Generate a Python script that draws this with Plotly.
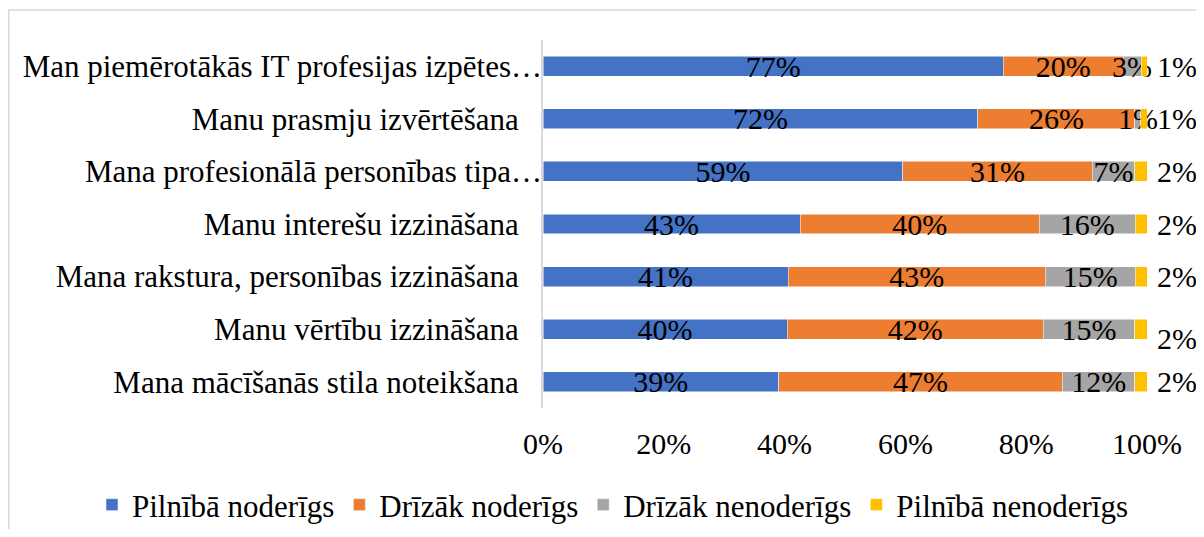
import plotly.graph_objects as go

categories = [
    "Man piemērotākās IT profesijas izpētes…",
    "Manu prasmju izvērtēšana",
    "Mana profesionālā personības tipa…",
    "Manu interešu izzināšana",
    "Mana rakstura, personības izzināšana",
    "Manu vērtību izzināšana",
    "Mana mācīšanās stila noteikšana",
]
series_names = ["Pilnībā noderīgs", "Drīzāk noderīgs", "Drīzāk nenoderīgs", "Pilnībā nenoderīgs"]
pilniba_noderigs = [77, 72, 59, 43, 41, 40, 39]
drizak_noderigs = [20, 26, 31, 40, 43, 42, 47]
drizak_nenoderigs = [3, 1, 7, 16, 15, 15, 12]
pilniba_nenoderigs = [1, 1, 2, 2, 2, 2, 2]
tick_vals = [0, 20, 40, 60, 80, 100]
tick_text = ["0%", "20%", "40%", "60%", "80%", "100%"]

colors = ["#4472C4", "#ED7D31", "#A5A5A5", "#FFC000"]
FONT = "Liberation Serif"
FS = 30
FS_LBL = 31

# figure is drawn inside the page's 8px body margin
W, H = 1196, 521
L, R, T, B = 535, 57, 32, 121
PW, PH = W - L - R, H - T - B

# category tick labels: untruncated Excel labels carry trailing padding
cat_labels = [c if c.endswith("…") else c + "\u00a0\u00a0\u00a0" for c in categories]

fig = go.Figure()
all_series = [pilniba_noderigs, drizak_noderigs, drizak_nenoderigs, pilniba_nenoderigs]
for i, (name, vals) in enumerate(zip(series_names, all_series)):
    inside = i < 3
    fig.add_trace(go.Bar(
        y=categories, x=vals, name=name, orientation="h",
        marker=dict(color=colors[i], line=dict(color="white", width=0.5)),
        text=[f"{v}%" for v in vals] if inside else None,
        textposition="inside" if inside else "none",
        insidetextanchor="middle",
        textangle=0,
        textfont=dict(family=FONT, size=FS, color="black"),
        constraintext="none",
        cliponaxis=False,
        hoverinfo="skip",
    ))

yshifts = [0, 0, 0, 0, 0, -9, 0]
for cat, v, ys in zip(categories, pilniba_nenoderigs, yshifts):
    fig.add_annotation(x=100, y=cat, xref="x", yref="y", text=f"{v}%",
                       showarrow=False, xanchor="left", xshift=8, yshift=ys,
                       font=dict(family=FONT, size=FS, color="black"))

fig.update_layout(
    barmode="stack", barnorm="percent", bargap=0.62,
    width=W, height=H,
    margin=dict(l=L, r=R, t=T, b=B, autoexpand=False),
    paper_bgcolor="white", plot_bgcolor="white",
    font=dict(family=FONT, size=FS, color="black"),
    legend=dict(orientation="h",
                x=(84 - L) / PW, xanchor="left", y=(T + PH - 497) / PH, yanchor="middle",
                bgcolor="rgba(0,0,0,0)",
                font=dict(family=FONT, size=31, color="black"),
                traceorder="normal", itemclick=False),
    showlegend=True,
)
fig.update_xaxes(range=[0, 100], tickvals=tick_vals, ticktext=tick_text,
                 showgrid=False, zeroline=False, showline=False, automargin=False,
                 tickfont=dict(family=FONT, size=FS, color="black"),
                 ticklabelstandoff=15, fixedrange=True)
fig.update_yaxes(autorange="reversed", showgrid=False, zeroline=False,
                 tickmode="array", tickvals=categories, ticktext=cat_labels,
                 showline=True, linecolor="#D9D9D9", linewidth=1.5, automargin=False,
                 ticks="", ticklabelstandoff=-7,
                 tickfont=dict(family=FONT, size=FS_LBL, color="black"), fixedrange=True)

# outer chart border
fig.add_shape(type="rect", xref="paper", yref="paper",
              x0=(0.75 - L) / PW, x1=(W + 5 - L) / PW,
              y0=(T + PH - 620) / PH, y1=(T + PH - 2) / PH,
              line=dict(color="#D9D9D9", width=1.5), fillcolor="rgba(0,0,0,0)", layer="below")

fig.write_html("out.html")
